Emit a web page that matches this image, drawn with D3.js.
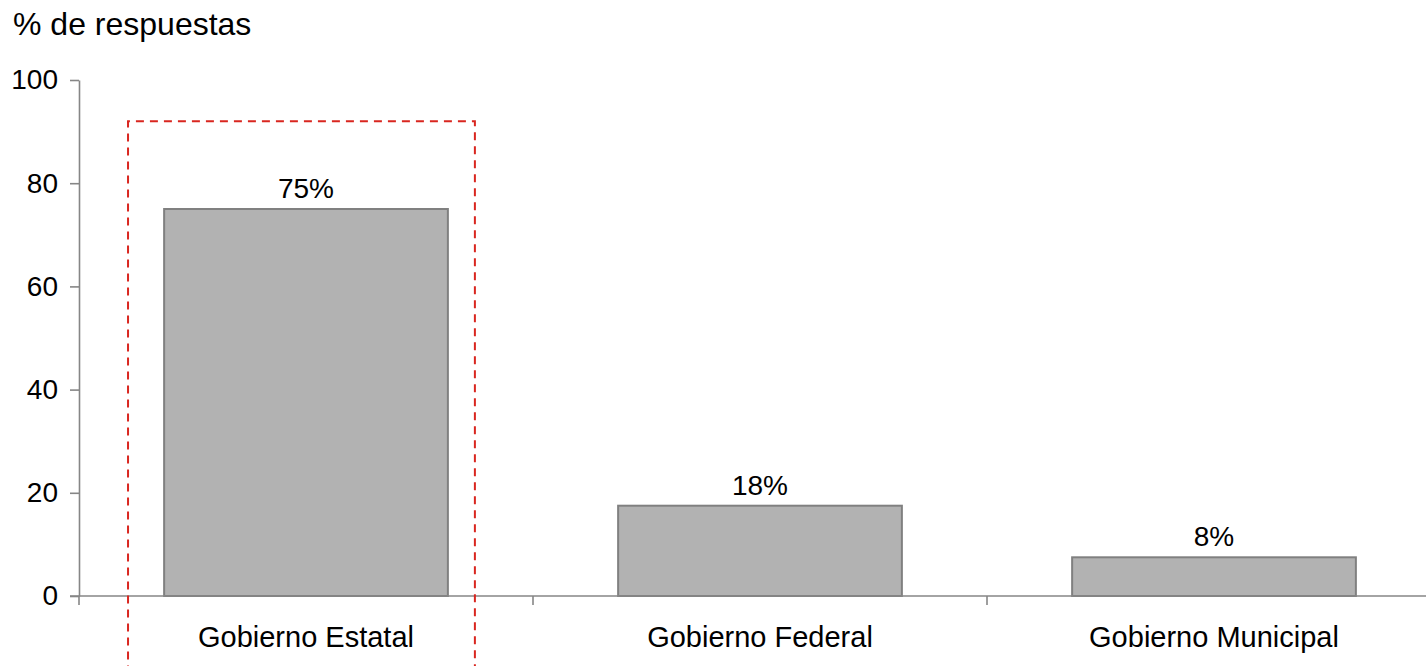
<!DOCTYPE html>
<html>
<head>
<meta charset="utf-8">
<script src="https://cdn.jsdelivr.net/npm/d3@7"></script>
<style>
body{margin:0;background:#fff;}
text{font-family:Arial,"Liberation Sans",sans-serif;fill:#000;}
</style>
</head>
<body>
<div id="content"></div>
<script>
//chart data
var categories=['Gobierno Estatal','Gobierno Federal','Gobierno Municipal'];
var values=[75,17.5,7.5];
var value_labels=['75%','18%','8%'];
var y_ticks=[0,20,40,60,80,100];
var y_title='% de respuestas';
var highlight_index=0;

//layout constants
var svg_width=1426;
var svg_height=666;
var margin={top:80, left:79, bottom:70};
var plot_bottom=596;
var step=454;
var axis_color='#868686';
var bar_fill='#b2b2b2';
var bar_stroke='#808080';
var red='#d9261f';

var svg=d3.select('#content').append('svg')
	.attr('width',svg_width)
	.attr('height',svg_height);

//scales
var yScale=d3.scaleLinear().domain([0,100]).range([plot_bottom,margin.top]);
var xCat=d3.scaleBand().domain(categories).range([margin.left,margin.left+step*categories.length]);
var xBar=d3.scaleBand().domain(categories).range(xCat.range()).paddingInner(0.375).paddingOuter(0.1875);

//title
svg.append('text')
	.attr('x',13)
	.attr('y',35)
	.style('font-size','32px')
	.text(y_title);

//y axis
var yAxis=svg.append('g')
	.attr('transform','translate('+margin.left+',0)')
	.call(d3.axisLeft(yScale).tickValues(y_ticks).tickSize(9).tickPadding(12).tickSizeOuter(0));
yAxis.select('.domain').attr('stroke',axis_color).attr('stroke-width',1.6);
yAxis.selectAll('.tick line').attr('stroke',axis_color).attr('stroke-width',1.6);
yAxis.selectAll('.tick text').style('font-size','28px').attr('font-family',null);

//bars
svg.selectAll('.bar')
	.data(categories)
	.enter()
	.append('rect')
	.attr('class','bar')
	.attr('x',function(d){return xBar(d);})
	.attr('y',function(d,i){return yScale(values[i]);})
	.attr('width',xBar.bandwidth())
	.attr('height',function(d,i){return yScale(0)-yScale(values[i]);})
	.style('fill',bar_fill)
	.style('stroke',bar_stroke)
	.style('stroke-width',2);

//value labels
svg.selectAll('.value_label')
	.data(categories)
	.enter()
	.append('text')
	.attr('class','value_label')
	.attr('x',function(d){return xBar(d)+xBar.bandwidth()/2;})
	.attr('y',function(d,i){return yScale(values[i])-11;})
	.attr('text-anchor','middle')
	.style('font-size','28px')
	.text(function(d,i){return value_labels[i];});

//x axis: boundary ticks between categories
var xg=svg.append('g').attr('class','x_axis');
xg.append('line')
	.attr('x1',margin.left-9)
	.attr('x2',svg_width)
	.attr('y1',yScale(0))
	.attr('y2',yScale(0))
	.attr('stroke',axis_color)
	.attr('stroke-width',1.6);
xg.selectAll('.xtick')
	.data(categories)
	.enter()
	.append('line')
	.attr('x1',function(d){return xCat(d);})
	.attr('x2',function(d){return xCat(d);})
	.attr('y1',yScale(0))
	.attr('y2',yScale(0)+9)
	.attr('stroke',axis_color)
	.attr('stroke-width',1.6);
xg.selectAll('.xlabel')
	.data(categories)
	.enter()
	.append('text')
	.attr('x',function(d){return xCat(d)+xCat.bandwidth()/2;})
	.attr('y',647)
	.attr('text-anchor','middle')
	.style('font-size','29px')
	.text(function(d){return d;});

//dashed highlight box around the first category
var hx0=xCat(categories[highlight_index])+0.108*step;
var hx1=xCat(categories[highlight_index])+0.872*step;
var hy0=yScale(92);
var hy1=yScale(-15);
svg.append('path')
	.attr('d','M'+hx0+','+hy1+'L'+hx0+','+hy0+'L'+hx1+','+hy0+'L'+hx1+','+hy1)
	.attr('fill','none')
	.attr('stroke',red)
	.attr('stroke-width',2)
	.attr('stroke-dasharray','8,6');
</script>
</body>
</html>
